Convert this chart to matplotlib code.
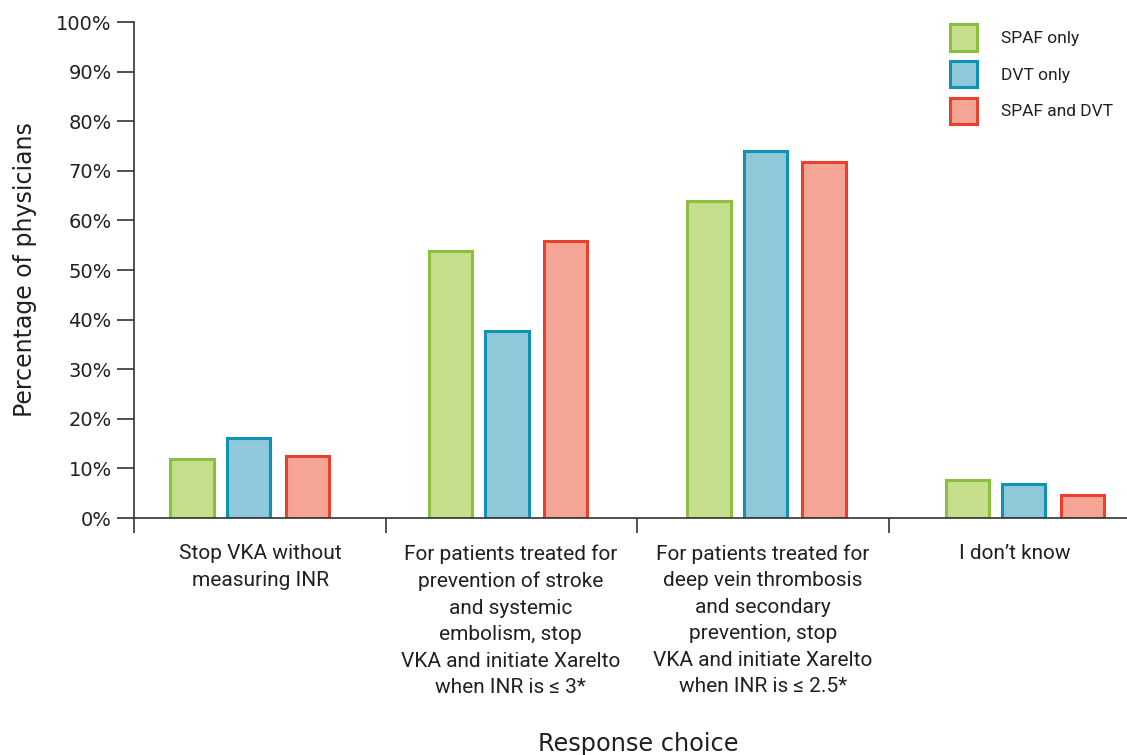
import matplotlib.pyplot as plt
import numpy as np

plt.rcParams['font.family'] = ['DejaVu Sans']

# Response choices and survey results (% of physicians)
categories = [
    'Stop VKA without\nmeasuring INR',
    'For patients treated for\nprevention of stroke\nand systemic\nembolism, stop\nVKA and initiate Xarelto\nwhen INR is \u2264 3*',
    'For patients treated for\ndeep vein thrombosis\nand secondary\nprevention, stop\nVKA and initiate Xarelto\nwhen INR is \u2264 2.5*',
    'I don\u2019t know',
]
series_names = ['SPAF only', 'DVT only', 'SPAF and DVT']
spaf_only = [11.8, 53.8, 64.0, 7.7]
dvt_only = [16.1, 37.8, 73.9, 6.8]
spaf_and_dvt = [12.4, 55.8, 71.8, 4.7]
y_ticks = np.arange(0, 101, 10)

fills = ['#c6df8c', '#8fc8d8', '#f5a595']
edges = ['#8dbf3f', '#0f93b5', '#e8412f']
text_col = '#231f20'
narrow = ['Roboto', 'DejaVu Sans']

fig = plt.figure(figsize=(11.27, 7.55), dpi=100)
ax = fig.add_axes([134 / 1127, 237 / 755, (1127 - 134) / 1127, 496 / 755])

x = np.arange(len(categories))
offsets = [-0.218, 0.0, 0.228]
width = 0.168
for vals, off, fc, ec, name in zip([spaf_only, dvt_only, spaf_and_dvt],
                                   offsets, fills, edges, series_names):
    ax.bar(x + off, vals, width, facecolor=fc, edgecolor=ec,
           linewidth=2.2, label=name, zorder=2)

ax.set_xlim(-0.443, 3.40)
ax.set_ylim(0, 100)

# y axis
ax.set_yticks(y_ticks)
ax.set_yticklabels([f'{v}%' for v in y_ticks], fontsize=14, color=text_col)
ax.tick_params(axis='y', length=12, width=1.2, color='#333333', pad=4)

# category labels between separator ticks
label_pos = [0.045, 1.013, 1.991, 2.967]
ax.set_xticks(label_pos)
ax.set_xticklabels(categories, fontsize=15, color=text_col, family=narrow,
                   linespacing=1.5, va='top')
ax.tick_params(axis='x', which='major', length=0, pad=19)
ax.set_xticks([-0.443, 0.532, 1.503, 2.479], minor=True)
ax.tick_params(axis='x', which='minor', length=11, width=1.2,
               color='#333333', direction='out')

for side in ['top', 'right']:
    ax.spines[side].set_visible(False)
for side in ['left', 'bottom']:
    ax.spines[side].set_linewidth(1.2)
    ax.spines[side].set_color('#333333')

ax.set_ylabel('Percentage of physicians', fontsize=17, color=text_col,
              labelpad=14)
fig.text(0.566, 4 / 755, 'Response choice', fontsize=17.3, color=text_col,
         ha='center', va='baseline')

leg = ax.legend(loc='upper left', bbox_to_anchor=(0.806, 1.028), frameon=False,
                prop={'family': narrow, 'size': 12.5}, handlelength=1.55,
                handleheight=2.0, handletextpad=1.38, labelspacing=0.58,
                labelcolor=text_col)

fig.savefig('out.png', dpi=100, facecolor='white')
